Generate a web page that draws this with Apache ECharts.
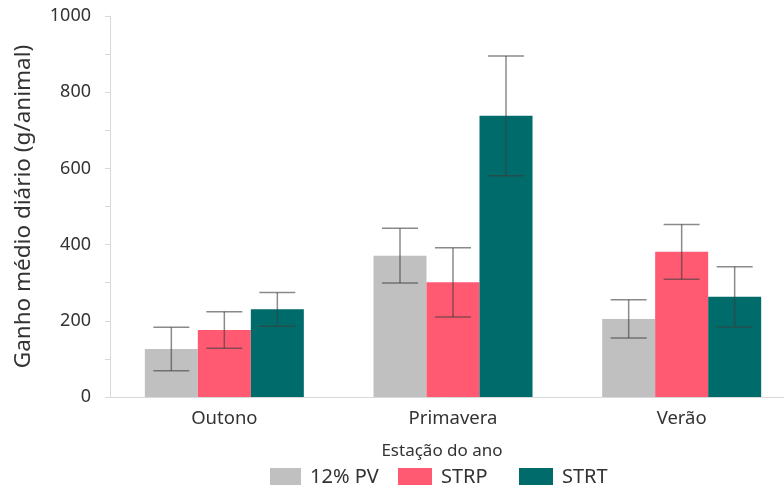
<!DOCTYPE html>
<html>
<head>
<meta charset="utf-8">
<script src="https://cdn.jsdelivr.net/npm/echarts@6/dist/echarts.min.js"></script>
<style>
  html, body { margin: 0; padding: 0; background: #fff; }
  #chart { width: 784px; height: 494px; }
</style>
</head>
<body>
<div id="chart"></div>
<script>
// Average daily gain per animal by season and supplementation group
const seasons = ['Outono', 'Primavera', 'Verão'];
const groups = ['12% PV', 'STRP', 'STRT'];
const meanPV = [126, 371, 205];
const meanSTRP = [176, 301, 381];
const meanSTRT = [230, 738, 263];
const errPV = [57, 72, 50];
const errSTRP = [48, 91, 72];
const errSTRT = [44, 157, 79];
const yTicks = [0, 200, 400, 600, 800, 1000];

const colors = ['#c0c0c0', '#ff5a72', '#006b6b'];
const means = [meanPV, meanSTRP, meanSTRT];
const errors = [errPV, errSTRP, errSTRT];
const BAR_W = 53;
const FONT = 'Noto Sans';

// key swatches under the plot: left edge and width of each swatch
const keyLefts = [270, 398, 519];
const keyWidths = [31, 34, 34];
const KEY_TOP = 468;
const KEY_H = 17;

const chart = echarts.init(document.getElementById('chart'));

function errorSeries(idx) {
  const data = seasons.map((s, i) => [i, means[idx][i] - errors[idx][i], means[idx][i] + errors[idx][i]]);
  return {
    type: 'custom',
    name: groups[idx] + ' erro',
    z: 5,
    silent: true,
    data: data,
    renderItem: function (params, api) {
      const cat = api.value(0);
      const lo = api.coord([cat, api.value(1)]);
      const hi = api.coord([cat, api.value(2)]);
      const x = lo[0] + (idx - 1) * BAR_W;
      const cap = 18;
      const style = { stroke: 'rgba(60,60,60,0.6)', lineWidth: 1.5 };
      return {
        type: 'group',
        children: [
          { type: 'line', shape: { x1: x, y1: hi[1], x2: x, y2: lo[1] }, style: style },
          { type: 'line', shape: { x1: x - cap, y1: hi[1], x2: x + cap, y2: hi[1] }, style: style },
          { type: 'line', shape: { x1: x - cap, y1: lo[1], x2: x + cap, y2: lo[1] }, style: style }
        ]
      };
    }
  };
}

const barSeries = groups.map((g, idx) => ({
  type: 'bar',
  name: g,
  data: means[idx],
  barWidth: BAR_W,
  barGap: '0%',
  itemStyle: { color: colors[idx] }
}));

// colour key: swatch + label for each group
const keyElements = [];
groups.forEach((g, idx) => {
  keyElements.push({
    type: 'rect',
    silent: true,
    shape: { x: keyLefts[idx], y: KEY_TOP, width: keyWidths[idx], height: KEY_H },
    style: { fill: colors[idx] }
  });
  keyElements.push({
    type: 'text',
    silent: true,
    style: {
      x: keyLefts[idx] + keyWidths[idx] + 9,
      y: KEY_TOP + KEY_H / 2 + 1,
      text: g,
      fontSize: 20,
      fontFamily: FONT,
      fill: '#333',
      align: 'left',
      verticalAlign: 'middle'
    }
  });
});

chart.setOption({
  animation: false,
  textStyle: { fontFamily: FONT },
  grid: { left: 110, top: 16, width: 686, bottom: 97, outerBoundsMode: 'none', containLabel: false },
  graphic: keyElements,
  xAxis: {
    type: 'category',
    data: seasons,
    name: 'Estação do ano',
    nameLocation: 'middle',
    nameGap: 46,
    nameTextStyle: { fontSize: 17, color: '#333', fontFamily: FONT, padding: [0, 22, 0, 0] },
    axisLine: { lineStyle: { color: '#d9d9d9', width: 1 } },
    axisTick: { show: false },
    axisLabel: { fontSize: 18.5, color: '#333', margin: 12 }
  },
  yAxis: {
    type: 'value',
    min: 0,
    max: 1000,
    interval: 200,
    name: 'Ganho médio diário (g/animal)',
    nameLocation: 'middle',
    nameGap: 75,
    nameTextStyle: { fontSize: 22.5, color: '#333', fontFamily: FONT },
    axisLine: { show: true, lineStyle: { color: '#d9d9d9', width: 1 } },
    axisTick: { show: true, length: 5, lineStyle: { color: '#d9d9d9' } },
    minorTick: { show: true, splitNumber: 2, length: 5, lineStyle: { color: '#d9d9d9' } },
    splitLine: { show: false },
    axisLabel: {
      fontSize: 18, color: '#333', margin: 19,
      formatter: v => (yTicks.indexOf(v) >= 0 ? String(v) : '')
    }
  },
  series: barSeries.concat([errorSeries(0), errorSeries(1), errorSeries(2)])
});
</script>
</body>
</html>
